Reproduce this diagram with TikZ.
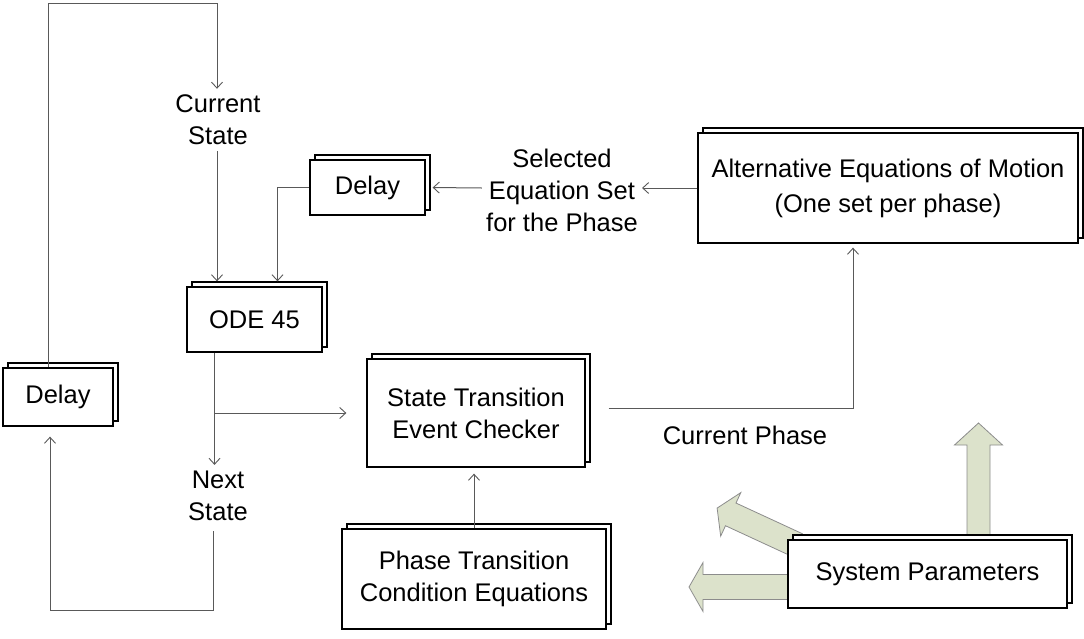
\documentclass[tikz,border=0pt]{standalone}
\usepackage{fontspec}
\setmainfont{Liberation Sans}
\usetikzlibrary{arrows.meta}

\tikzset{
  txt/.style={font=\fontsize{25.5}{32}\selectfont, align=center, inner sep=6pt},
  box/.style={txt, draw=black, line width=1.3pt, fill=white, inner sep=0pt},
  backbox/.style={draw=black, line width=1.3pt, fill=white},
  conn/.style={draw=black!65, line width=1pt,
    -{Straight Barb[length=6pt,width=11pt,line width=0.9pt]}},
  fatarrow/.style={draw=black!45, line width=0.8pt, fill=paramfill, line join=miter}
}
\definecolor{paramfill}{HTML}{DCE2CB}

% stacked box: name, centre x, centre y, width, height, text
\newcommand\stackbox[6]{%
  \path[backbox] ({#2-#4/2+5},{#3-#5/2-5}) rectangle ({#2+#4/2+5},{#3+#5/2-5});
  \node[box, minimum width=#4pt, minimum height=#5pt] (#1) at (#2,#3) {#6};
}
% block arrow: tail x, tail y, angle, length, head length, head half-width, shaft half-width
\newcommand\blockarrow[7]{%
  \begin{scope}[shift={(#1,#2)}, rotate=#3]
    \path[fatarrow] (0,{-#7}) -- ({#4-#5},{-#7}) -- ({#4-#5},{-#6}) -- (#4,0)
      -- ({#4-#5},{#6}) -- ({#4-#5},{#7}) -- (0,{#7}) -- cycle;
  \end{scope}
}

\begin{document}
\begin{tikzpicture}[x=1pt, y=-1pt]
\useasboundingbox (0,0) rectangle (1084,638);

% system-parameter arrows sit behind their box
\blockarrow{800}{587}{180}{111}{14}{24.5}{12.5}
\blockarrow{797}{545}{155.2}{88}{15}{24}{12.5}
\blockarrow{978.5}{545}{90}{122}{22}{24}{11.5}

% blocks
\stackbox{dL}{58}{397}{110}{58}{Delay}
\stackbox{dT}{367.5}{187.5}{115}{55}{Delay}
\stackbox{ode}{254.5}{319.5}{135}{65}{ODE 45}
\stackbox{st}{476}{413}{218}{108}{State Transition\\Event Checker}
\stackbox{alt}{888}{188}{380}{110}{Alternative Equations of Motion\\[3pt](One set per phase)}
\stackbox{ph}{474}{579}{264}{100}{Phase Transition\\Condition Equations}
\stackbox{sp}{927.5}{574}{279}{68}{System Parameters}

% free labels
\node[txt] (cur) at (218,120) {Current\\State};
\node[txt] (nxt) at (218,496) {Next\\State};
\node[txt, inner sep=4pt] (sel) at (562,190) {Selected\\Equation Set\\for the Phase};
\node[txt, inner sep=0pt] (cph) at (745,435) {Current Phase};

% bend points
\coordinate (tl) at (48,3);
\coordinate (tr) at (217,3);
\coordinate (bl) at (50,610);
\coordinate (br) at (215,413);
\coordinate (odeT) at ([yshift=5pt]ode.north);

% state feedback loop
\draw[conn] ([xshift=-10pt]dL.north) -- (tl) -- (tr) -- (tr |- cur.north);
\draw[conn] ([xshift=-1pt]cur.south) -- ([xshift=-1pt]cur.south |- odeT);
\draw[conn] (dT.west) -| ([xshift=23pt]odeT);
\draw[conn] ([xshift=-40pt]ode.south) -- ([xshift=-40pt]ode.south |- nxt.north);
\draw[conn, shorten >=20pt] (br) -- (br -| st.west);
\draw[conn, shorten >=10pt] ([xshift=-5pt,yshift=-4pt]nxt.south) |- (bl) -- (bl |- dL.south);

% phase selection
\draw[conn, shorten >=4pt] ([xshift=23pt,yshift=5pt]st.east) -| ([xshift=-35pt]alt.south);
\draw[conn] (alt.west) -- (sel.east |- alt.west);
\draw[conn, shorten >=1pt] (sel.west |- alt.west) -- ([xshift=6pt]dT.east);
\draw[conn, shorten >=6pt] (ph.north) -- (ph.north |- st.south);
\end{tikzpicture}
\end{document}
